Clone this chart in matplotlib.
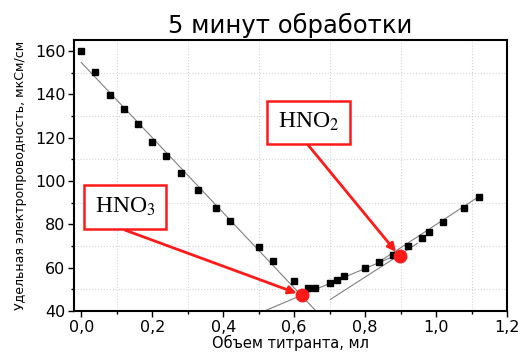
import matplotlib
matplotlib.use("Agg")
import matplotlib.pyplot as plt
from matplotlib.ticker import MultipleLocator, FuncFormatter

plt.rcParams["font.family"] = ["DejaVu Sans"]
plt.rcParams["mathtext.fontset"] = "stix"

# measured points
vol = [0.0, 0.04, 0.08, 0.12, 0.16, 0.20, 0.24, 0.28, 0.33, 0.38, 0.42, 0.50,
       0.54, 0.60, 0.64, 0.66, 0.70, 0.72, 0.74, 0.80, 0.84, 0.88, 0.92, 0.96,
       0.98, 1.02, 1.08, 1.12]
cond = [160, 150.3, 139.9, 133.3, 126.1, 117.9, 111.5, 103.8, 95.8, 87.7, 81.5,
        69.4, 63.1, 53.9, 50.5, 50.9, 52.9, 54.3, 56.2, 59.7, 62.8, 65.9, 70.1,
        73.8, 76.6, 81.2, 87.4, 92.7]

# linear fit segments (end points)
fit_x = [[0.0, 0.662], [0.515, 0.90], [0.702, 0.947], [0.84, 1.126]]
fit_y = [[154.7, 40.0], [40.0, 66.6], [45.4, 71.2], [62.8, 93.4]]

# equivalence points
eq_names = ["HNO$_3$", "HNO$_2$"]
eq_x = [0.622, 0.897]
eq_y = [47.4, 65.4]
label_x = [0.123, 0.640]
label_y = [88.0, 127.1]
arrow_from = [(0.123, 77.4), (0.640, 116.5)]

fig = plt.figure(figsize=(5.2, 3.52), dpi=100)
ax = fig.add_axes([0.142, 0.116, 0.833, 0.770])

for fx, fy in zip(fit_x, fit_y):
    ax.plot(fx, fy, color="#808080", lw=0.8, zorder=2)

ax.plot(vol, cond, "s", color="black", markersize=5, zorder=3)
ax.plot(eq_x, eq_y, "o", color="#ff1a1a", markersize=9, zorder=5)

for name, lx, ly, start, ex, ey in zip(eq_names, label_x, label_y, arrow_from, eq_x, eq_y):
    ax.text(lx, ly, name, family="Liberation Serif", fontsize=17,
            ha="center", va="center", zorder=6,
            bbox=dict(boxstyle="square,pad=0.45", fc="white", ec="#ff1a1a", lw=1.8))
    ax.annotate("", xy=(ex, ey), xytext=start, zorder=4,
                arrowprops=dict(arrowstyle="-|>", color="#ff1a1a", lw=2,
                                mutation_scale=12, shrinkA=0, shrinkB=4))

ax.set_xlim(-0.021, 1.2)
ax.set_ylim(40, 165)
ax.xaxis.set_major_locator(MultipleLocator(0.2))
ax.xaxis.set_minor_locator(MultipleLocator(0.1))
ax.yaxis.set_major_locator(MultipleLocator(20))
ax.yaxis.set_minor_locator(MultipleLocator(10))
ax.xaxis.set_major_formatter(FuncFormatter(lambda v, p: f"{v:.1f}".replace(".", ",")))
ax.grid(which="minor", color="#d4d4d4", ls=":", lw=0.8)
ax.tick_params(which="major", direction="out", length=4, width=1, labelsize=11.5, pad=2)
ax.tick_params(which="minor", direction="out", length=2.5, width=1)
for s in ax.spines.values():
    s.set_linewidth(1.5)

ax.set_title("5 минут обработки", fontsize=17.5, pad=5)
ax.set_xlabel("Объем титранта, мл", fontsize=10.5, labelpad=0)
ax.set_ylabel("Удельная электропроводность, мкСм/см", fontsize=9, labelpad=6)

fig.savefig("out.png", dpi=100)
